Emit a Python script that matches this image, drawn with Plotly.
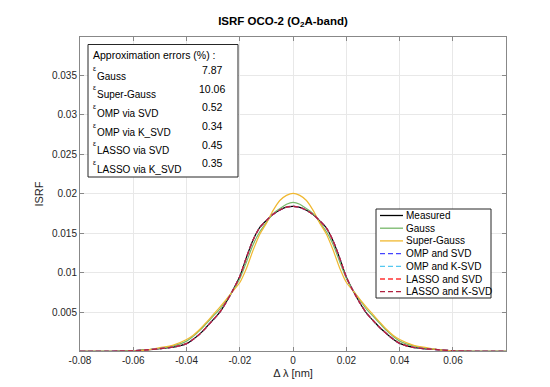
import plotly.graph_objects as go

# wavelength offsets [nm]
dlam = [-0.08, -0.075, -0.07, -0.065, -0.06, -0.055, -0.05, -0.045, -0.04, -0.0375,
        -0.035, -0.0325, -0.03, -0.0275, -0.025, -0.0225, -0.02, -0.0175, -0.015, -0.0125,
        -0.01, -0.0075, -0.005, -0.0025, 0.0,
        0.0025, 0.005, 0.0075, 0.01, 0.0125, 0.015, 0.0175, 0.02, 0.0225, 0.025,
        0.0275, 0.03, 0.0325, 0.035, 0.0375, 0.04, 0.045, 0.05, 0.055, 0.06,
        0.065, 0.07, 0.075, 0.08]

measured = [0.00010, 0.00010, 0.00011, 0.00013, 0.00017, 0.00029, 0.00045, 0.00064, 0.00108, 0.00163,
            0.00232, 0.00318, 0.00410, 0.00505, 0.00640, 0.00790, 0.00960, 0.01200, 0.01420, 0.01575,
            0.01665, 0.01742, 0.01796, 0.01832, 0.01842,
            0.01829, 0.01793, 0.01738, 0.01658, 0.01568, 0.01405, 0.01185, 0.00945, 0.00775, 0.00625,
            0.00495, 0.00400, 0.00312, 0.00236, 0.00166, 0.00111, 0.00061, 0.00043, 0.00030, 0.00018,
            0.00013, 0.00011, 0.00010, 0.00010]

gauss = [0.00010, 0.00010, 0.00010, 0.00012, 0.00018, 0.00030, 0.00050, 0.00080, 0.00140, 0.00200,
         0.00275, 0.00365, 0.00455, 0.00545, 0.00660, 0.00780, 0.00930, 0.01140, 0.01360, 0.01520,
         0.01640, 0.01750, 0.01812, 0.01868, 0.01892,
         0.01868, 0.01812, 0.01750, 0.01640, 0.01520, 0.01360, 0.01140, 0.00930, 0.00780, 0.00660,
         0.00545, 0.00455, 0.00365, 0.00275, 0.00200, 0.00140, 0.00080, 0.00050, 0.00030, 0.00018,
         0.00012, 0.00010, 0.00010, 0.00010]

super_gauss = [0.00010, 0.00010, 0.00010, 0.00010, 0.00015, 0.00028, 0.00057, 0.00090, 0.00160, 0.00215,
               0.00290, 0.00380, 0.00475, 0.00570, 0.00670, 0.00775, 0.00880, 0.01060, 0.01290, 0.01490,
               0.01630, 0.01790, 0.01915, 0.01980, 0.02006,
               0.01980, 0.01915, 0.01790, 0.01630, 0.01490, 0.01290, 0.01060, 0.00880, 0.00775, 0.00670,
               0.00570, 0.00475, 0.00380, 0.00290, 0.00215, 0.00160, 0.00090, 0.00057, 0.00028, 0.00015,
               0.00010, 0.00010, 0.00010, 0.00010]

omp_svd = [0.00010, 0.00011, 0.00011, 0.00014, 0.00018, 0.00029, 0.00044, 0.00065, 0.00107, 0.00164,
           0.00233, 0.00317, 0.00409, 0.00506, 0.00638, 0.00791, 0.00958, 0.01198, 0.01418, 0.01574,
           0.01664, 0.01741, 0.01794, 0.01830, 0.01840,
           0.01828, 0.01792, 0.01739, 0.01659, 0.01566, 0.01406, 0.01187, 0.00946, 0.00776, 0.00626,
           0.00496, 0.00401, 0.00313, 0.00235, 0.00167, 0.00110, 0.00062, 0.00043, 0.00029, 0.00018,
           0.00012, 0.00011, 0.00010, 0.00010]

omp_ksvd = [0.00010, 0.00010, 0.00011, 0.00013, 0.00017, 0.00029, 0.00045, 0.00064, 0.00108, 0.00163,
            0.00232, 0.00318, 0.00410, 0.00505, 0.00639, 0.00790, 0.00959, 0.01199, 0.01419, 0.01575,
            0.01665, 0.01742, 0.01795, 0.01831, 0.01841,
            0.01829, 0.01793, 0.01738, 0.01658, 0.01567, 0.01405, 0.01186, 0.00945, 0.00775, 0.00625,
            0.00495, 0.00400, 0.00312, 0.00236, 0.00166, 0.00111, 0.00061, 0.00043, 0.00030, 0.00018,
            0.00013, 0.00011, 0.00010, 0.00010]

lasso_svd = [0.00010, 0.00011, 0.00011, 0.00013, 0.00018, 0.00028, 0.00045, 0.00065, 0.00108, 0.00162,
             0.00232, 0.00317, 0.00410, 0.00506, 0.00640, 0.00789, 0.00960, 0.01199, 0.01419, 0.01574,
             0.01665, 0.01741, 0.01795, 0.01831, 0.01841,
             0.01829, 0.01792, 0.01738, 0.01659, 0.01567, 0.01406, 0.01186, 0.00946, 0.00775, 0.00626,
             0.00495, 0.00401, 0.00312, 0.00235, 0.00166, 0.00111, 0.00062, 0.00043, 0.00030, 0.00018,
             0.00013, 0.00011, 0.00010, 0.00010]

lasso_ksvd = [0.00010, 0.00010, 0.00011, 0.00013, 0.00017, 0.00029, 0.00045, 0.00064, 0.00108, 0.00163,
              0.00232, 0.00318, 0.00410, 0.00505, 0.00640, 0.00790, 0.00960, 0.01200, 0.01420, 0.01575,
              0.01665, 0.01742, 0.01796, 0.01832, 0.01842,
              0.01829, 0.01793, 0.01738, 0.01658, 0.01568, 0.01405, 0.01185, 0.00945, 0.00775, 0.00625,
              0.00495, 0.00400, 0.00312, 0.00236, 0.00166, 0.00111, 0.00061, 0.00043, 0.00030, 0.00018,
              0.00013, 0.00011, 0.00010, 0.00010]

err_labels = ['Gauss', 'Super-Gauss', 'OMP via SVD', 'OMP via K_SVD', 'LASSO via SVD', 'LASSO via K_SVD']
err_values = ['7.87', '10.06', '0.52', '0.34', '0.45', '0.35']

x_ticks = [-0.08, -0.06, -0.04, -0.02, 0, 0.02, 0.04, 0.06]
x_ticktext = ['-0.08', '-0.06', '-0.04', '-0.02', '0', '0.02', '0.04', '0.06']
y_ticks = [0.005, 0.01, 0.015, 0.02, 0.025, 0.03, 0.035]
y_ticktext = ['0.005', '0.01', '0.015', '0.02', '0.025', '0.03', '0.035']

FONT = 'Liberation Sans, Arial, Helvetica, sans-serif'

series = [
    ('Measured', measured, '#000000', 'solid'),
    ('Gauss', gauss, '#77b86a', 'solid'),
    ('Super-Gauss', super_gauss, '#f0b830', 'solid'),
    ('OMP and SVD', omp_svd, '#4444ff', '5px,3px'),
    ('OMP and K-SVD', omp_ksvd, '#55c8f0', '5px,3px'),
    ('LASSO and SVD', lasso_svd, '#ff3333', '5px,3px'),
    ('LASSO and K-SVD', lasso_ksvd, '#b0203f', '5px,3px'),
]

fig = go.Figure()
for name, vals, col, dash in series:
    fig.add_trace(go.Scatter(x=dlam, y=vals, mode='lines', name=name, showlegend=False,
                             line=dict(color=col, width=1.2, dash=dash, shape='spline', smoothing=0.8)))

# plot area in pixels: x 72..498, y 29..343
L, R, T, B = 72, 52, 29, 44
W, H = 550, 387
pw, ph = W - L - R, H - T - B


def px(xp):
    return (xp - L) / pw


def py(yp):
    return (H - B - yp) / ph


shapes = []
annots = []

# error box
shapes.append(dict(type='rect', x0=px(80), x1=px(230), y0=py(169), y1=py(36.5),
                   line=dict(color='#262626', width=1), fillcolor='white'))
annots.append(dict(text='Approximation errors (%) :', x=px(83), y=py(47), xanchor='left',
                   yanchor='middle', font=dict(size=10.5)))
row_y = [62, 80.7, 99.4, 118, 136.7, 155.4]
for lab, val, yy in zip(err_labels, err_values, row_y):
    annots.append(dict(text='ε', x=px(83), y=py(yy - 1), xanchor='left', yanchor='middle',
                       font=dict(size=7)))
    annots.append(dict(text=lab, x=px(87), y=py(yy + 6), xanchor='left', yanchor='middle',
                       font=dict(size=10)))
    annots.append(dict(text=val, x=px(204), y=py(yy), xanchor='center', yanchor='middle',
                       font=dict(size=10.5)))

# legend box
shapes.append(dict(type='rect', x0=px(368), x1=px(483), y0=py(290), y1=py(201),
                   line=dict(color='#262626', width=1), fillcolor='white'))
for i, (name, vals, col, dash) in enumerate(series):
    yy = 207.5 + i * 12.7
    shapes.append(dict(type='line', x0=px(372), x1=px(395), y0=py(yy), y1=py(yy),
                       line=dict(color=col, width=1.3, dash=dash)))
    annots.append(dict(text=name, x=px(396), y=py(yy), xanchor='left', yanchor='middle',
                       font=dict(size=10)))

for s in shapes:
    s.update(xref='paper', yref='paper', layer='above')
for a in annots:
    a.update(xref='paper', yref='paper', showarrow=False)
    a['font'].update(family=FONT, color='#000000')

fig.update_layout(
    width=W, height=H,
    margin=dict(l=L, r=R, t=T, b=B),
    paper_bgcolor='white', plot_bgcolor='white',
    font=dict(family=FONT, size=10, color='#262626'),
    title=dict(text='<b>ISRF OCO-2 (O<sub>2</sub>A-band)</b>', x=px(285), xanchor='center',
               y=1 - 13 / H, yanchor='middle', font=dict(size=11.5, color='#000000')),
    xaxis=dict(range=[-0.08, 0.0799], tickvals=x_ticks, ticktext=x_ticktext,
               showgrid=True, gridcolor='#e8e8e8', zeroline=False,
               showline=True, linecolor='#888888', linewidth=1, mirror='ticks',
               ticks='inside', ticklen=4, tickcolor='#888888',
               title=dict(text='Δ λ [nm]', standoff=4, font=dict(size=11))),
    yaxis=dict(range=[0.00015, 0.0398], tickvals=y_ticks, ticktext=y_ticktext,
               showgrid=True, gridcolor='#e8e8e8', zeroline=False,
               showline=True, linecolor='#888888', linewidth=1, mirror='ticks',
               ticks='inside', ticklen=4, tickcolor='#888888',
               title=dict(text='ISRF', standoff=6, font=dict(size=11))),
    shapes=shapes,
    annotations=annots,
    showlegend=False,
)

fig.write_html('out.html')
